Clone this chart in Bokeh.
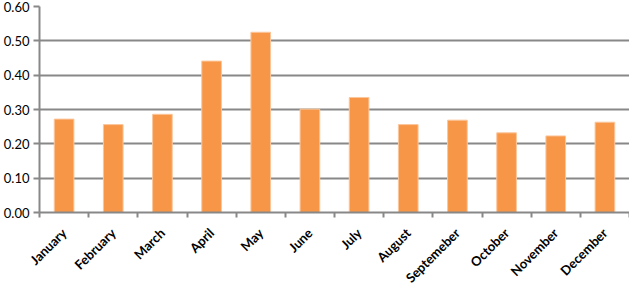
import math
from bokeh.plotting import figure
from bokeh.models import ColumnDataSource, FixedTicker, NumeralTickFormatter, Range1d
from bokeh.embed import file_html
from bokeh.resources import INLINE

months = ["January", "February", "March", "April", "May", "June", "July",
          "August", "Septemeber", "October", "November", "December"]
values = [0.272, 0.256, 0.286, 0.441, 0.525, 0.301, 0.335, 0.256, 0.269, 0.232, 0.223, 0.263]
y_ticks = [0.0, 0.1, 0.2, 0.3, 0.4, 0.5, 0.6]

centers = [i + 0.5 for i in range(len(months))]
src = ColumnDataSource(dict(x=centers, top=values, month=months))

p = figure(frame_width=590, frame_height=206, output_backend="svg", toolbar_location=None,
           x_range=Range1d(0, len(months)), y_range=Range1d(0, 0.6),
           min_border_left=34, min_border_right=0, min_border_top=6, min_border_bottom=0)
p.outline_line_color = None

p.vbar(x="x", top="top", width=0.4, source=src, fill_color="#F79646",
       line_color="#FBC69C", line_width=1)

grid_col = "#888888"
p.xgrid.visible = False
p.ygrid.ticker = FixedTicker(ticks=y_ticks)
p.ygrid.grid_line_color = grid_col
p.ygrid.grid_line_width = 2

p.yaxis.ticker = FixedTicker(ticks=y_ticks)
p.yaxis.formatter = NumeralTickFormatter(format="0.00")
p.yaxis.axis_line_color = grid_col
p.yaxis.axis_line_width = 2
p.yaxis.major_tick_line_color = grid_col
p.yaxis.major_tick_line_width = 2
p.yaxis.major_tick_out = 6
p.yaxis.major_tick_in = 0
p.yaxis.minor_tick_line_color = None
p.yaxis.major_label_text_font = "Lato"
p.yaxis.major_label_text_font_size = "13px"
p.yaxis.major_label_text_color = "#000000"
p.yaxis.major_label_standoff = 4

p.xaxis.ticker = FixedTicker(ticks=centers, minor_ticks=list(range(len(months) + 1)))
p.xaxis.major_label_overrides = {c: m for c, m in zip(centers, months)}
p.xaxis.major_tick_line_color = None
p.xaxis.minor_tick_line_color = grid_col
p.xaxis.minor_tick_line_width = 2
p.xaxis.minor_tick_out = 5
p.xaxis.minor_tick_in = 0
p.xaxis.axis_line_color = grid_col
p.xaxis.axis_line_width = 2
p.xaxis.major_label_orientation = math.pi / 4
p.xaxis.major_label_text_font = "Lato"
p.xaxis.major_label_text_font_style = "bold"
p.xaxis.major_label_text_font_size = "13px"
p.xaxis.major_label_text_color = "#000000"
p.xaxis.major_label_standoff = 12

open("out.html", "w").write(file_html(p, INLINE))
